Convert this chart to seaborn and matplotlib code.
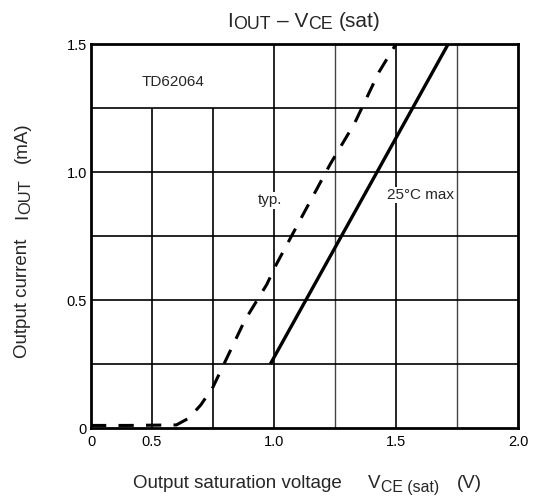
import numpy as np
import pandas as pd
import matplotlib
matplotlib.use("Agg")
import matplotlib.pyplot as plt
import seaborn as sns

# typ. curve (dashed)
typ_vce = [0.0, 0.30, 0.60, 0.65, 0.70, 0.75, 0.83, 0.88, 0.97, 1.01, 1.10, 1.23, 1.33, 1.43, 1.50]
typ_iout = [0.01, 0.01, 0.012, 0.038, 0.09, 0.16, 0.32, 0.42, 0.56, 0.64, 0.80, 1.03, 1.19, 1.39, 1.50]

# 25°C max curve (solid)
max_vce = [0.985, 1.714]
max_iout = [0.25, 1.50]

x_ticks = [0, 0.5, 1.0, 1.5, 2.0]
x_labels = ["0", "0.5", "1.0", "1.5", "2.0"]
y_ticks = [0, 0.5, 1.0, 1.5]
y_labels = ["0", "0.5", "1.0", "1.5"]

grid_x_short = [0.5, 0.75]          # these stop under the TD62064 box
grid_x_major = [1.0, 1.5]
grid_x_minor = [1.25, 1.75]
grid_y = [0.25, 0.5, 0.75, 1.0, 1.25]


# the datasheet squeezes 0..0.5 V into one grid cell, 0.25 V per cell after that
def fwd(v):
    v = np.asarray(v, dtype=float)
    return np.where(v <= 0.5, 2 * v, 1 + 4 * (v - 0.5))


def inv(u):
    u = np.asarray(u, dtype=float)
    return np.where(u <= 1, u / 2, 0.5 + (u - 1) / 4)


sns.set_style("white")
plt.rcParams["font.family"] = ["Liberation Sans", "DejaVu Sans"]

fig = plt.figure(figsize=(5.34, 5.01), dpi=100)
ax = fig.add_axes([91 / 534, 1 - 428 / 501, 427 / 534, 384 / 501])

df_typ = pd.DataFrame({"vce": typ_vce, "iout": typ_iout})
df_max = pd.DataFrame({"vce": max_vce, "iout": max_iout})

sns.lineplot(data=df_typ, x="vce", y="iout", ax=ax, color="black", lw=2.2,
             linestyle=(0, (5, 4)), estimator=None, sort=False, zorder=5)
sns.lineplot(data=df_max, x="vce", y="iout", ax=ax, color="black", lw=2.4,
             estimator=None, sort=False, solid_capstyle="butt", zorder=5)

ax.set_xscale("function", functions=(fwd, inv))
ax.set_xlim(0, 2.0)
ax.set_ylim(0, 1.5)

ax.vlines(grid_x_short, 0, 1.25, color="black", lw=1.2, zorder=1)
ax.vlines(grid_x_major, 0, 1.5, color="black", lw=1.2, zorder=1)
ax.vlines(grid_x_minor, 0, 1.5, color="#444444", lw=1.0, zorder=1)
ax.hlines(grid_y, 0, 2.0, color="black", lw=1.2, zorder=1)

ax.set_xticks(x_ticks, x_labels)
ax.set_yticks(y_ticks, y_labels)
ax.xaxis.set_minor_locator(matplotlib.ticker.NullLocator())
ax.tick_params(axis="both", length=0, labelsize=10.5, colors="black")
ax.tick_params(axis="x", pad=5)
ax.tick_params(axis="y", pad=3)
ax.set_xlabel("")
ax.set_ylabel("")

for s in ax.spines.values():
    s.set_visible(True)
    s.set_color("black")
    s.set_linewidth(2.0)

ax.text(0.418, 1.35, "TD62064", fontsize=11, ha="left", va="center")
ax.text(0.985, 0.89, "typ.", fontsize=11, ha="center", va="center", zorder=3,
        bbox=dict(facecolor="white", edgecolor="none", pad=1))
ax.text(1.462, 0.91, "25°C max", fontsize=11, ha="left", va="center", zorder=3,
        bbox=dict(facecolor="white", edgecolor="none", pad=1))


def put_text(pieces, x, y, size, sub_scale, drop, rotation=0):
    # pieces: (text, subscript?, gap before in points), chained one after another
    prev = None
    for txt, sub, gap in pieces:
        fs = size * sub_scale if sub else size
        d = drop if sub else 0
        if rotation == 0:
            if prev is None:
                xy, xyc = (x, y), "figure pixels"
            else:
                xy, xyc = (1, y), (prev, "figure pixels")
            xytext = (gap, -d)
        else:
            if prev is None:
                xy, xyc = (x, y), "figure pixels"
            else:
                xy, xyc = (x, 1), ("figure pixels", prev)
            xytext = (d, gap)
        prev = ax.annotate(txt, xy=xy, xycoords=xyc, xytext=xytext,
                           textcoords="offset points", fontsize=fs,
                           rotation=rotation, rotation_mode="anchor",
                           ha="left", va="baseline", annotation_clip=False)


put_text([("I", False, 0), ("OUT", True, 0), ("– V", False, 4.8), ("CE", True, 0),
          ("(sat)", False, 4.3)], 227, 474, 15, 0.85, 1.3)
put_text([("Output saturation voltage", False, 0), ("V", False, 19),
          ("CE (sat)", True, 0), ("(V)", False, 13)], 133, 13, 13.5, 0.85, 2.9)
put_text([("Output current", False, 0), ("I", False, 14), ("OUT", True, 0),
          ("(mA)", False, 12)], 27, 143, 13.5, 0.88, 2.5, rotation=90)

fig.savefig("out.png", dpi=100)
